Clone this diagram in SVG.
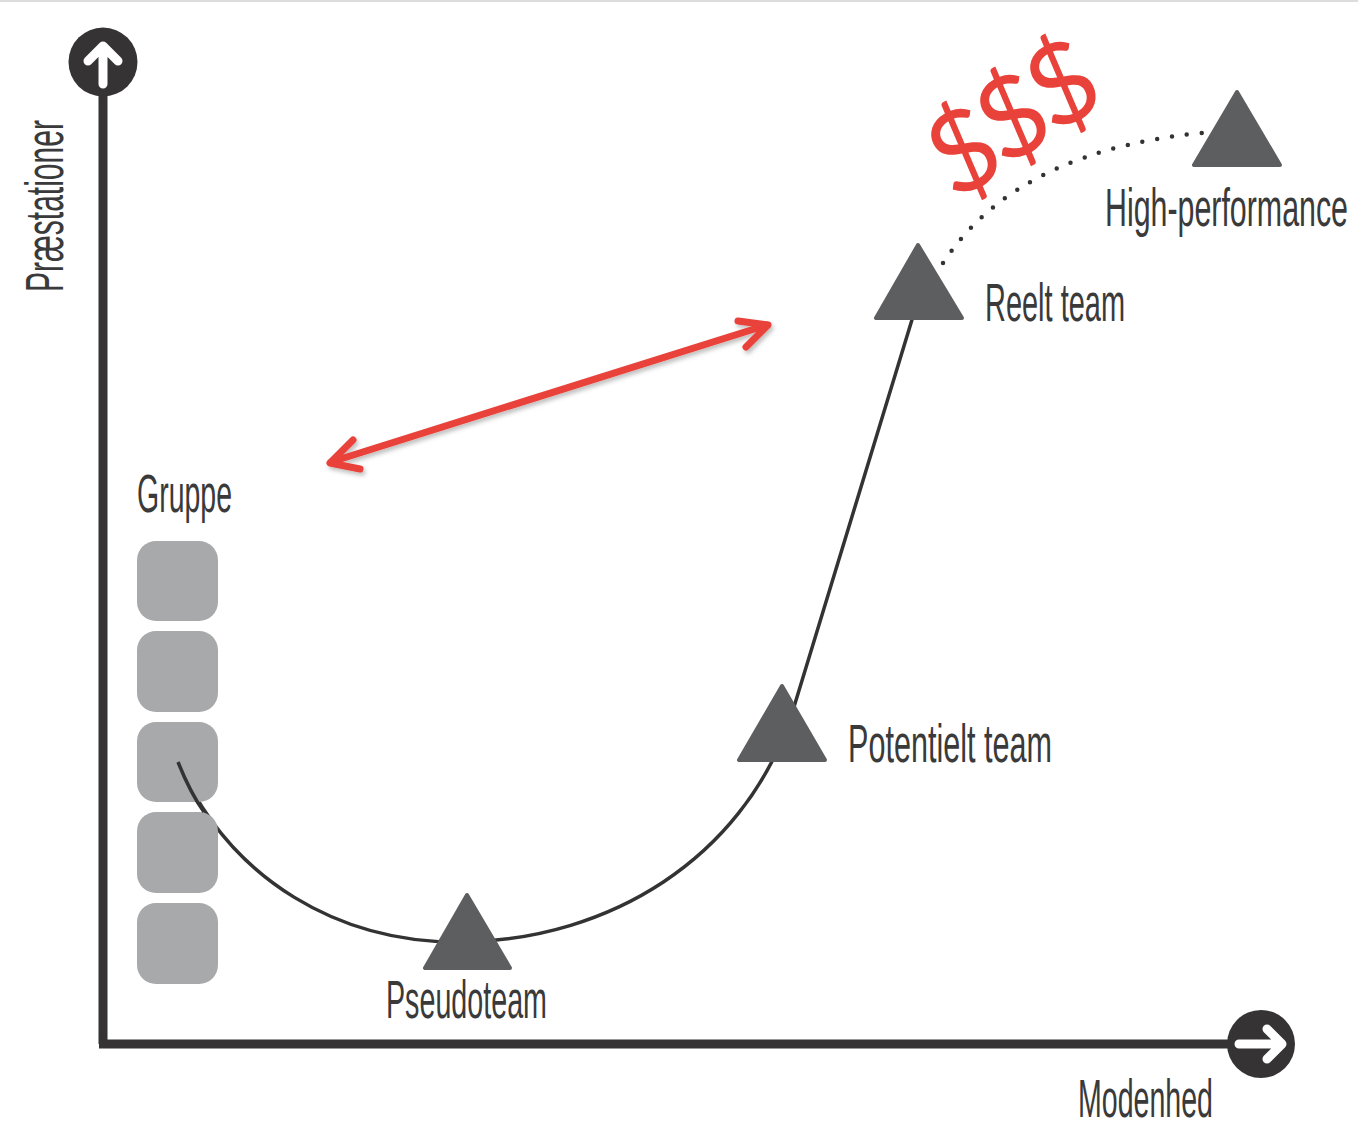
<svg xmlns="http://www.w3.org/2000/svg" width="1358" height="1135" viewBox="0 0 1358 1135">
<style>
.lbl{font-family:"Liberation Sans",Arial,sans-serif;font-size:53px;fill:#3a3a3b;}
.tri{fill:#5d5e60;stroke:#5d5e60;stroke-width:4;stroke-linejoin:round;}
.blk{fill:#a8a9ab;}
.axis{stroke:#353334;stroke-width:9;fill:none;}
.dial{fill:#353334;}
.warr{stroke:#ffffff;stroke-width:9;stroke-linecap:round;stroke-linejoin:round;fill:none;}
.red{stroke:#e8423a;stroke-width:7;stroke-linecap:round;stroke-linejoin:round;fill:none;}
.dollar{font-family:Lato,"Open Sans",sans-serif;font-size:112px;fill:#e8423a;text-anchor:middle;}
</style>
<defs>
<filter id="sh" x="-10%" y="-30%" width="120%" height="160%">
<feDropShadow dx="2" dy="3" stdDeviation="2" flood-color="#000" flood-opacity="0.25"/>
</filter>
</defs>
<rect width="1358" height="1135" fill="#ffffff"/>
<line x1="0" y1="1" x2="1358" y2="1" stroke="#dcdcdc" stroke-width="2"/>

<g id="axes">
<line class="axis" x1="103" y1="1044" x2="103" y2="90"/>
<line class="axis" x1="99" y1="1044" x2="1235" y2="1044"/>
<circle class="dial" cx="103" cy="62" r="34.5"/>
<path class="warr" d="M103 84 L103 47 M88 61 L103 46 L118 61"/>
<circle class="dial" cx="1261" cy="1044" r="34"/>
<path class="warr" d="M1239 1044 L1281 1044 M1267 1029 L1282 1044 L1267 1059"/>
<text class="lbl" transform="translate(63 292) rotate(-90)" textLength="172" lengthAdjust="spacingAndGlyphs">Præstationer</text>
<text class="lbl" x="1078" y="1117" textLength="135" lengthAdjust="spacingAndGlyphs">Modenhed</text>
</g>

<g id="connectors">
<path d="M178 762 C230 880 340 945 467 942 C610 938 740 860 790 720 L918 300" fill="none" stroke="#333333" stroke-width="3.5"/>
<path d="M943 263 Q1018 148 1212 132" fill="none" stroke="#333333" stroke-width="4.5" stroke-linecap="round" stroke-dasharray="0 15"/>
<g filter="url(#sh)">
<path class="red" d="M331 462 L767 325"/>
<path class="red" d="M353 440 L330 463 L360 469"/>
<path class="red" d="M738 321 L768 325 L746 347"/>
</g>
</g>

<g id="gruppe">
<rect class="blk" x="137" y="541" width="81" height="80" rx="19"/>
<rect class="blk" x="137" y="631" width="81" height="81" rx="19"/>
<rect class="blk" x="137" y="722" width="81" height="80" rx="19"/>
<rect class="blk" x="137" y="812" width="81" height="81" rx="19"/>
<rect class="blk" x="137" y="903" width="81" height="81" rx="19"/>
<text class="lbl" x="137" y="512" textLength="95" lengthAdjust="spacingAndGlyphs">Gruppe</text>
</g>
<path d="M178 762 C186 782 194 798 204 812" fill="none" stroke="#333333" stroke-width="3.5"/>

<g id="pseudoteam">
<polygon class="tri" points="467,895 425,968 510,968"/>
<text class="lbl" x="386" y="1018" textLength="161" lengthAdjust="spacingAndGlyphs">Pseudoteam</text>
</g>

<g id="potentielt-team">
<polygon class="tri" points="782,686 739,760 825,760"/>
<text class="lbl" x="848" y="762" textLength="204" lengthAdjust="spacingAndGlyphs">Potentielt team</text>
</g>

<g id="reelt-team">
<polygon class="tri" points="918,245 876,318 962,318"/>
<text class="lbl" x="985" y="321" textLength="140" lengthAdjust="spacingAndGlyphs">Reelt team</text>
</g>

<g id="high-performance">
<polygon class="tri" points="1237,92 1194,165 1280,165"/>
<text class="lbl" x="1105" y="226" textLength="243" lengthAdjust="spacingAndGlyphs">High-performance</text>
</g>

<g id="dollars">
<text class="dollar" transform="translate(963 150) rotate(-27)" y="40">$</text>
<text class="dollar" transform="translate(1012 116) rotate(-27)" y="40">$</text>
<text class="dollar" transform="translate(1062 83) rotate(-27)" y="40">$</text>
</g>
</svg>
